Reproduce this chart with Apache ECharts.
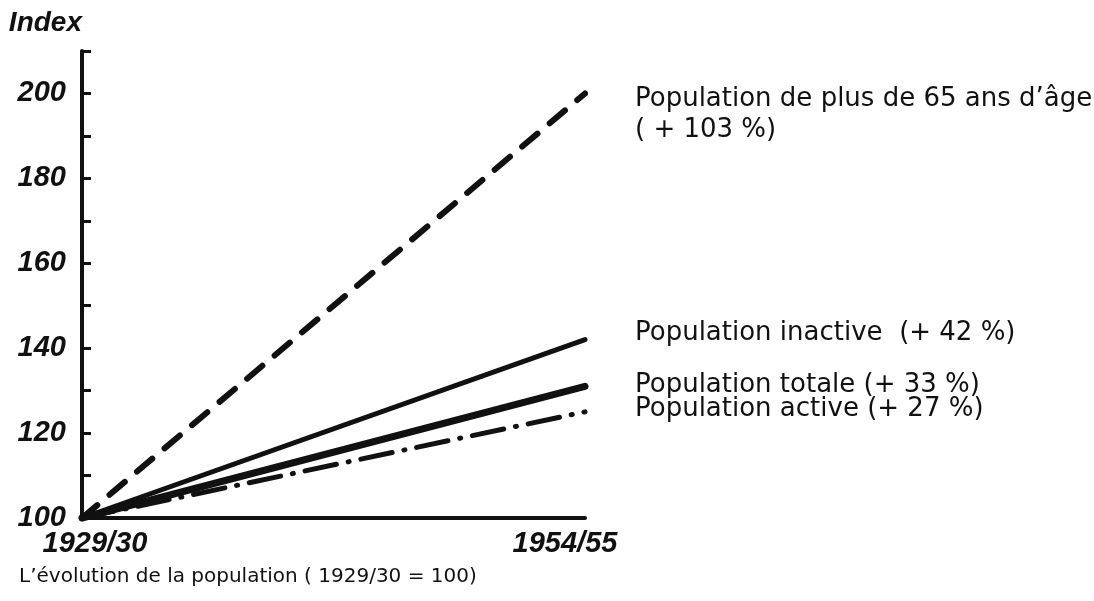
<!DOCTYPE html>
<html>
<head>
<meta charset="utf-8">
<script src="https://cdn.jsdelivr.net/npm/echarts@6/dist/echarts.min.js"></script>
<style>
  html, body { margin: 0; padding: 0; background: #ffffff; }
  #chart { width: 1094px; height: 601px; }
</style>
</head>
<body>
<div id="chart"></div>
<script>
// ---- data ----
const categories = ['1929/30', '1954/55'];
const seniors  = [100, 200];   // Population de plus de 65 ans d'âge
const inactive = [100, 142];   // Population inactive
const total    = [100, 131];   // Population totale
const active   = [100, 125];   // Population active
const seriesNames = ['Population de plus de 65 ans d’âge', 'Population inactive', 'Population totale', 'Population active'];
const seriesLabels = [
  'Population de plus de 65 ans d’âge\n( + 103 %)',
  'Population inactive  (+ 42 %)',
  'Population totale (+ 33 %)',
  'Population active (+ 27 %)'
];
const yLabelValues = [100, 120, 140, 160, 180, 200];
const yAxisTitle = 'Index';
const caption = 'L’évolution de la population ( 1929/30 = 100)';

const INK = '#111111';
const labelFont = { color: INK, fontSize: 26, fontFamily: 'DejaVu Sans' };

function endLabel(text, offsetY, extra) {
  return Object.assign({
    show: true,
    formatter: () => text,
    distance: 50,
    offset: [0, offsetY],
    align: 'left'
  }, labelFont, extra || {});
}

const axisFont = { color: INK, fontSize: 29, fontStyle: 'italic', fontWeight: 'bold', fontFamily: 'Liberation Sans' };

const chart = echarts.init(document.getElementById('chart'), null, { renderer: 'canvas' });
chart.setOption({
  animation: false,
  backgroundColor: '#ffffff',
  title: {
    text: caption,
    left: 14,
    top: 562,
    textStyle: { color: INK, fontSize: 20, fontWeight: 'normal', fontFamily: 'DejaVu Sans' }
  },
  grid: { left: 82, right: 509, top: 51, bottom: 83, containLabel: false },
  xAxis: {
    type: 'category',
    data: categories,
    boundaryGap: false,
    axisLine: { show: true, lineStyle: { color: INK, width: 4 } },
    axisTick: { show: false },
    splitLine: { show: false },
    axisLabel: Object.assign({}, axisFont, {
      margin: 11,
      formatter: (v, i) => (i === 0 ? '{a|' + v + '}' : '{b|' + v + '}'),
      rich: {
        a: Object.assign({}, axisFont, { padding: [0, 0, 0, 26] }),
        b: Object.assign({}, axisFont, { padding: [0, 40, 0, 0] })
      }
    })
  },
  yAxis: {
    type: 'value',
    min: 100,
    max: 210,
    interval: 10,
    name: yAxisTitle,
    nameLocation: 'end',
    nameGap: 14,
    nameTextStyle: Object.assign({}, axisFont, { fontSize: 28, align: 'right' }),
    axisLine: { show: true, lineStyle: { color: INK, width: 4 } },
    axisTick: { show: true, inside: true, length: 9, lineStyle: { color: INK, width: 3 } },
    splitLine: { show: false },
    axisLabel: Object.assign({}, axisFont, {
      margin: 16,
      formatter: v => (yLabelValues.indexOf(v) >= 0 ? String(v) : '')
    })
  },
  series: [
    {
      name: seriesNames[0], type: 'line', data: seniors, symbol: 'none', clip: false,
      lineStyle: { color: INK, width: 6, type: [20, 16], cap: 'round' },
      endLabel: endLabel(seriesLabels[0], 21, { lineHeight: 31 })
    },
    {
      name: seriesNames[1], type: 'line', data: inactive, symbol: 'none', clip: false,
      lineStyle: { color: INK, width: 5, type: 'solid', cap: 'round' },
      endLabel: endLabel(seriesLabels[1], -6)
    },
    {
      name: seriesNames[2], type: 'line', data: total, symbol: 'none', clip: false,
      lineStyle: { color: INK, width: 7, type: 'solid', cap: 'round' },
      endLabel: endLabel(seriesLabels[2], -1)
    },
    {
      name: seriesNames[3], type: 'line', data: active, symbol: 'none', clip: false,
      lineStyle: { color: INK, width: 5, type: [32, 12, 1, 12], cap: 'round' },
      endLabel: endLabel(seriesLabels[3], -3)
    }
  ]
});
</script>
</body>
</html>
